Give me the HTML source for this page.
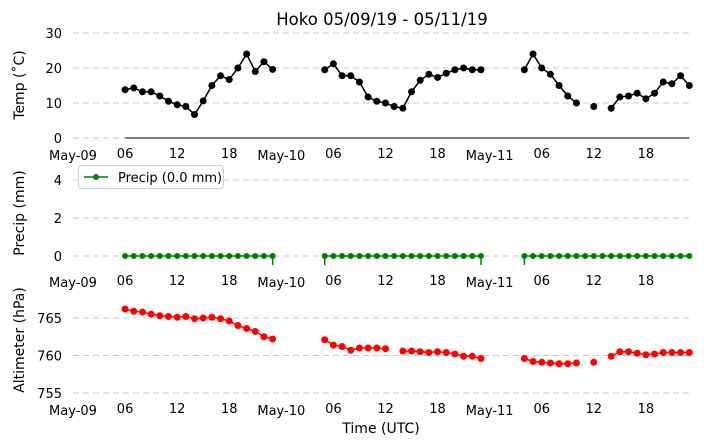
<!DOCTYPE html>
<html><head><meta charset="utf-8"><style>
body{margin:0;background:#fff;}
svg{display:block;font-family:"DejaVu Sans","Liberation Sans",sans-serif;}
</style></head><body>
<svg id="c" width="704" height="445" viewBox="0 0 704 445"></svg>
<script>
const tempHours=[6,7,8,9,10,11,12,13,14,15,16,17,18,19,20,21,22,23,null,29,30,31,32,33,34,35,36,37,38,39,40,41,42,43,44,45,46,47,null,52,53,54,55,56,57,58,null,60,null,62,63,64,65,66,67,68,69,70,71];
const tempVals=[13.8,14.3,13.2,13.2,12,10.5,9.5,9,6.7,10.6,15,17.8,16.7,20,24,19,21.8,19.6,null,19.5,21.2,17.8,17.8,16,11.7,10.5,10,9,8.5,13.2,16.5,18.2,17.3,18.5,19.5,20,19.5,19.5,null,19.5,24,20,18.2,15,12,10,null,9,null,8.5,11.7,12,12.8,11.2,12.8,16,15.5,17.8,15];
const precipHours=[6,7,8,9,10,11,12,13,14,15,16,17,18,19,20,21,22,23,null,29,30,31,32,33,34,35,36,37,38,39,40,41,42,43,44,45,46,47,null,52,53,54,55,56,57,58,59,60,61,62,63,64,65,66,67,68,69,70,71];
const precipVals=precipHours.map(h=>h===null?null:0.0);
const altHours=[6,7,8,9,10,11,12,13,14,15,16,17,18,19,20,21,22,23,null,29,30,31,32,33,34,35,36,null,38,39,40,41,42,43,44,45,46,47,null,52,53,54,55,56,57,58,null,60,null,62,63,64,65,66,67,68,69,70,71];
const altVals=[766.2,765.9,765.8,765.5,765.3,765.2,765.1,765.2,764.9,765,765.1,764.9,764.6,764,763.6,763.2,762.5,762.2,null,762.1,761.4,761.2,760.7,761,761,761,760.9,null,760.6,760.6,760.5,760.4,760.5,760.4,760.2,759.9,759.9,759.6,null,759.6,759.2,759.1,759,758.9,758.9,759,null,759.1,null,759.9,760.5,760.5,760.3,760.1,760.2,760.4,760.4,760.4,760.4];
const xTickHours=[0,6,12,18,24,30,36,42,48,54,60,66];
const xTickLabels=["May-09","06","12","18","May-10","06","12","18","May-11","06","12","18"];
const tempTicks=[0,10,20,30], precipTicks=[0,2,4], altTicks=[755,760,765];

const svg=document.getElementById('c');
const NS='http://www.w3.org/2000/svg';
function mk(tag,attrs,parent){const e=document.createElementNS(NS,tag);for(const k in attrs)e.setAttribute(k,attrs[k]);(parent||svg).appendChild(e);return e;}
const X0=73,PXH=8.68,XR=690;
const x=h=>X0+h*PXH;
function yScale(v0,p0,v1,p1){return v=>p0+(v-v0)*(p1-p0)/(v1-v0);}

function panel(name,ys,ticks,label,labelY,hours,vals,color,tickY,r){
  const g=mk('g',{});
  
  
  ticks.forEach(t=>{
    const gl=mk('line',{x1:X0,x2:XR,y1:ys(t),y2:ys(t),stroke:'#c8c8c8','stroke-dasharray':'6,4','stroke-width':1},g);
    
    
    const tl=mk('text',{x:62,y:ys(t)+5,'text-anchor':'end','font-size':13},g);
    tl.textContent=t;
    
    
  });
  xTickHours.forEach((h,i)=>{
    const tl=mk('text',{x:x(h),y:tickY+(i%4===0?2:0),'text-anchor':'middle','font-size':13},g);
    tl.textContent=xTickLabels[i];
    
    
  });
  const yl=mk('text',{x:0,y:0,'text-anchor':'middle','font-size':14,transform:`translate(24,${labelY}) rotate(-90)`},g);
  yl.textContent=label;
  
  
  let seg=[];const segs=[];
  hours.forEach((h,i)=>{if(h===null||vals[i]===null){if(seg.length)segs.push(seg);seg=[];}else seg.push([x(h),ys(vals[i])]);});
  if(seg.length)segs.push(seg);
  segs.forEach(s=>{
    if(s.length>1){const pl=mk('polyline',{points:s.map(p=>p.join(',')).join(' '),fill:'none',stroke:color,'stroke-width':1.5},g);
      
      }
    s.forEach(p=>{const c=mk('circle',{cx:p[0],cy:p[1],r:r,fill:color},g);
      
      });
  });
  return segs;
}
const ti=mk('text',{x:382,y:25,'text-anchor':'middle','font-size':16.5});
ti.textContent='Hoko 05/09/19 - 05/11/19';



const yT=yScale(0,138,30,33);
panel('temp',yT,tempTicks,'Temp (˚C)',85,tempHours,tempVals,'#000',158,3.5);
const ax=mk('line',{x1:x(6),x2:x(71),y1:138,y2:138,stroke:'#000','stroke-width':1});



const yP=yScale(0,256,4,180);
panel('precip',yP,precipTicks,'Precip (mm)',213,precipHours,precipVals,'#008000',285,3);
[23,29,47,52].forEach(h=>{const s=mk('line',{x1:x(h),x2:x(h),y1:256,y2:265,stroke:'#008000','stroke-width':1.5});
  
  });

const yA=yScale(755,393,765,318);
panel('alt',yA,altTicks,'Altimeter (hPa)',340,altHours,altVals,'#ff0000',413,3.5);

const lg=mk('g',{});


mk('rect',{x:78.5,y:165.5,width:145,height:23,rx:3,fill:'#fff',stroke:'#d0d0d0'},lg);
mk('line',{x1:84,x2:108,y1:177,y2:177,stroke:'#008000','stroke-width':1.5},lg);
mk('circle',{cx:96,cy:177,r:3,fill:'#008000'},lg);
const lt=mk('text',{x:118,y:182,'font-size':13},lg);
lt.textContent='Precip (0.0 mm)';



const xt=mk('text',{x:381,y:433,'text-anchor':'middle','font-size':14});
xt.textContent='Time (UTC)';


</script>
</body></html>
